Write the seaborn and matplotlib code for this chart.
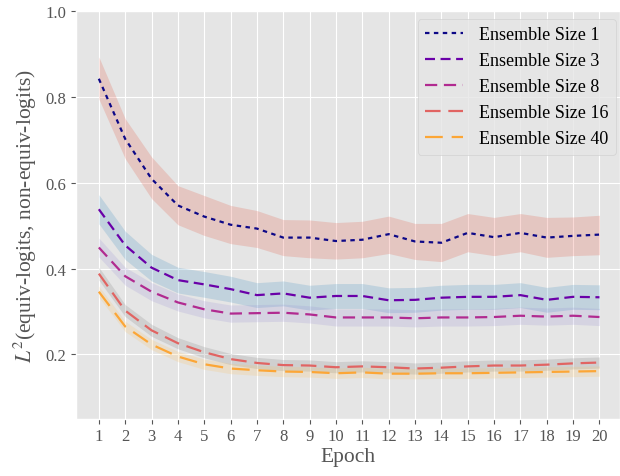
import numpy as np
import pandas as pd
import matplotlib
matplotlib.use("Agg")
import matplotlib.pyplot as plt
import seaborn as sns

plt.style.use("ggplot")
plt.rcParams["font.family"] = ["Liberation Serif", "DejaVu Serif"]
plt.rcParams["mathtext.fontset"] = "stix"

epochs = list(range(1, 21))
sizes = [1, 3, 8, 16, 40]

mean_1 = [0.842, 0.702, 0.609, 0.547, 0.521, 0.502, 0.493, 0.472, 0.472, 0.464,
          0.467, 0.480, 0.463, 0.460, 0.483, 0.473, 0.483, 0.472, 0.476, 0.479]
lo_1 = [0.795, 0.656, 0.563, 0.502, 0.477, 0.458, 0.449, 0.430, 0.425, 0.422,
        0.425, 0.435, 0.421, 0.416, 0.439, 0.430, 0.439, 0.426, 0.430, 0.432]
hi_1 = [0.893, 0.749, 0.660, 0.593, 0.570, 0.547, 0.535, 0.514, 0.513, 0.507,
        0.510, 0.522, 0.505, 0.505, 0.528, 0.519, 0.528, 0.519, 0.520, 0.524]

mean_3 = [0.538, 0.454, 0.402, 0.373, 0.363, 0.352, 0.338, 0.342, 0.332, 0.336,
          0.336, 0.326, 0.327, 0.332, 0.334, 0.334, 0.338, 0.327, 0.334, 0.333]
err_3 = [0.034, 0.033, 0.031, 0.030, 0.030, 0.030, 0.029, 0.029, 0.029, 0.029,
         0.029, 0.029, 0.029, 0.029, 0.029, 0.029, 0.029, 0.029, 0.029, 0.029]

mean_8 = [0.449, 0.382, 0.346, 0.321, 0.305, 0.295, 0.296, 0.297, 0.293, 0.286,
          0.286, 0.286, 0.284, 0.286, 0.286, 0.287, 0.290, 0.288, 0.290, 0.287]
err_8 = [0.022, 0.021, 0.021, 0.020, 0.020, 0.020, 0.020, 0.020, 0.020, 0.020,
         0.020, 0.020, 0.020, 0.020, 0.020, 0.020, 0.020, 0.020, 0.020, 0.020]

mean_16 = [0.388, 0.302, 0.256, 0.226, 0.205, 0.189, 0.180, 0.175, 0.174, 0.170,
           0.172, 0.170, 0.167, 0.169, 0.172, 0.174, 0.174, 0.176, 0.179, 0.181]
err_16 = [0.015, 0.014, 0.014, 0.013, 0.013, 0.013, 0.013, 0.013, 0.013, 0.013,
          0.013, 0.013, 0.013, 0.013, 0.013, 0.013, 0.013, 0.013, 0.013, 0.013]

mean_40 = [0.346, 0.265, 0.223, 0.195, 0.177, 0.167, 0.163, 0.160, 0.159, 0.156,
           0.158, 0.155, 0.155, 0.156, 0.156, 0.157, 0.158, 0.159, 0.160, 0.161]
err_40 = [0.013, 0.012, 0.012, 0.012, 0.012, 0.012, 0.012, 0.012, 0.012, 0.012,
          0.012, 0.012, 0.012, 0.012, 0.012, 0.012, 0.012, 0.012, 0.012, 0.012]

means = [mean_1, mean_3, mean_8, mean_16, mean_40]
lows = [lo_1] + [list(np.array(m) - np.array(e)) for m, e in
                 [(mean_3, err_3), (mean_8, err_8), (mean_16, err_16), (mean_40, err_40)]]
highs = [hi_1] + [list(np.array(m) + np.array(e)) for m, e in
                  [(mean_3, err_3), (mean_8, err_8), (mean_16, err_16), (mean_40, err_40)]]

line_colors = ["#0d0887", "#6a00a8", "#b12a90", "#e16462", "#fca636"]
band_colors = ["#E24A33", "#348ABD", "#988ED5", "#777777", "#FBC15E"]
dash_styles = [(0, (2, 2)), (0, (4.5, 2.5)), (0, (5.5, 3)), (0, (7, 3.5)), (0, (8, 4))]

fig, ax = plt.subplots(figsize=(6.2, 4.77), dpi=100)
fig.subplots_adjust(left=0.122, right=1.0, bottom=0.12, top=0.975)

for i, s in enumerate(sizes):
    df = pd.DataFrame({"epoch": epochs, "val": means[i]})
    ax.fill_between(epochs, lows[i], highs[i], color=band_colors[i], alpha=0.2, linewidth=0)
    sns.lineplot(data=df, x="epoch", y="val", ax=ax, color=line_colors[i],
                 linestyle=dash_styles[i], linewidth=1.6, label=f"Ensemble Size {s}")

ax.set_xlim(0.12, 20.78)
ax.set_ylim(0.05, 1.0)
ax.set_xticks(epochs)
ax.set_yticks([0.2, 0.4, 0.6, 0.8, 1.0])
ax.tick_params(labelsize=12)
ax.set_xlabel("Epoch", fontsize=15.5, labelpad=2)
ax.set_ylabel("$L^2$(equiv-logits, non-equiv-logits)", fontsize=15.5, labelpad=4)
leg = ax.legend(loc="upper right", bbox_to_anchor=(0.992, 0.98), fontsize=13,
                handlelength=2.1, handletextpad=0.9, labelspacing=0.5, borderaxespad=0)
for t in leg.get_texts():
    t.set_color("black")

fig.savefig("out.png")
